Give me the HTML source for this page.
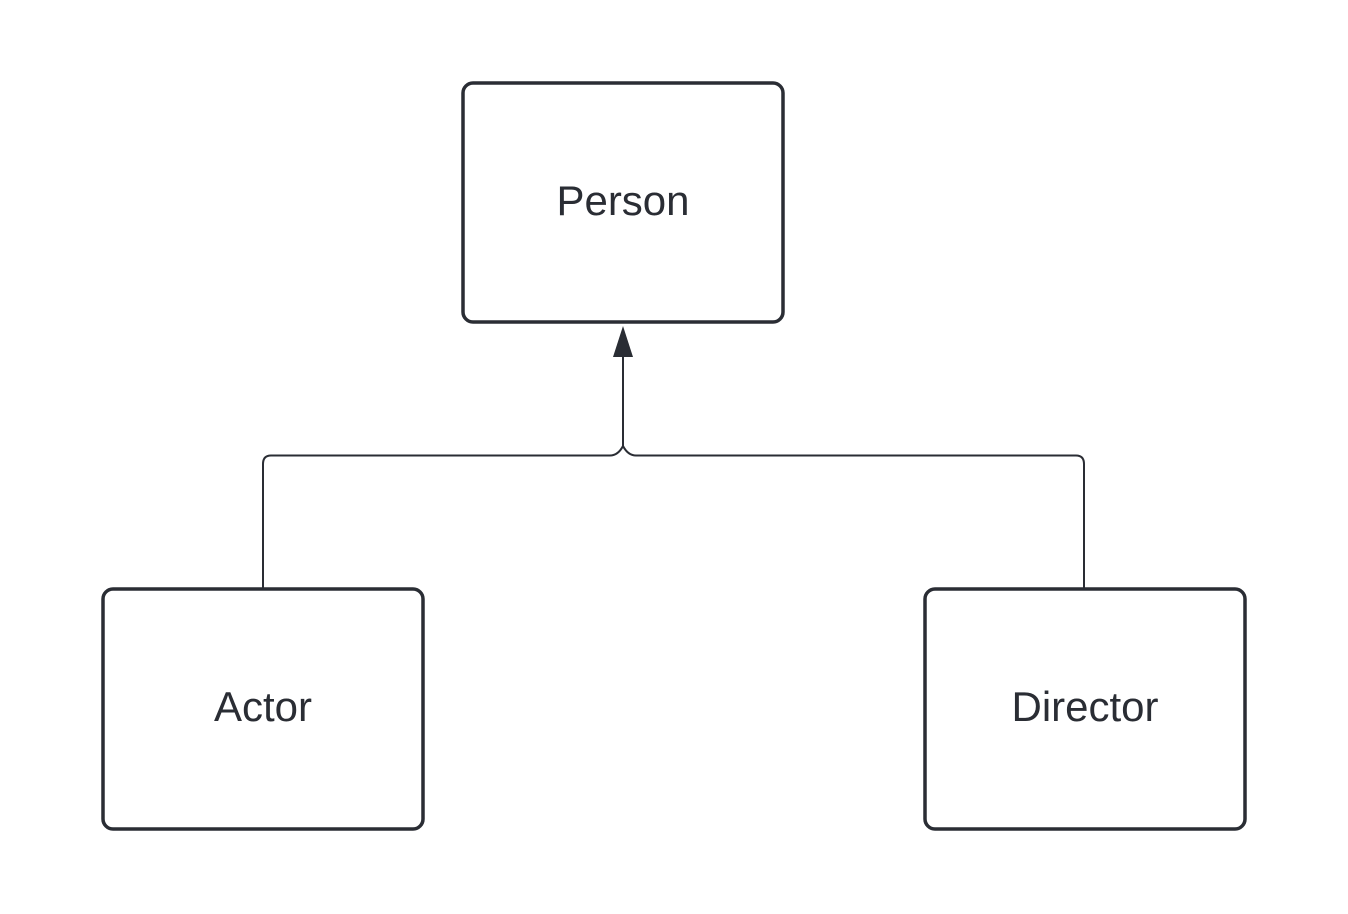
<!DOCTYPE html>
<html><head><style>
html,body{margin:0;padding:0;background:#fff;}
svg{display:block;}
text{font-family:"Liberation Sans",sans-serif;font-size:42px;fill:#2a2d34;}
</style></head><body>
<svg width="1348" height="914" viewBox="0 0 1348 914">
<g fill="#fff" stroke="#2a2d34" stroke-width="3.5">
<rect x="463" y="83" width="320" height="239" rx="10"/>
<rect x="103" y="589" width="320" height="240" rx="10"/>
<rect x="925" y="589" width="320" height="240" rx="10"/>
</g>
<g fill="none" stroke="#2a2d34" stroke-width="2">
<path d="M263 588 V464 Q263 455.5 271 455.5 H610 Q618 455.5 623 446 Q628 455.5 636 455.5 H1076 Q1084 455.5 1084 464 V588"/>
<path d="M623 446 V352"/>
</g>
<polygon points="623,326 613,357 633,357" fill="#2a2d34"/>
<text x="623" y="215" text-anchor="middle">Person</text>
<text x="263" y="721" text-anchor="middle">Actor</text>
<text x="1085" y="721" text-anchor="middle">Director</text>
</svg>
</body></html>
